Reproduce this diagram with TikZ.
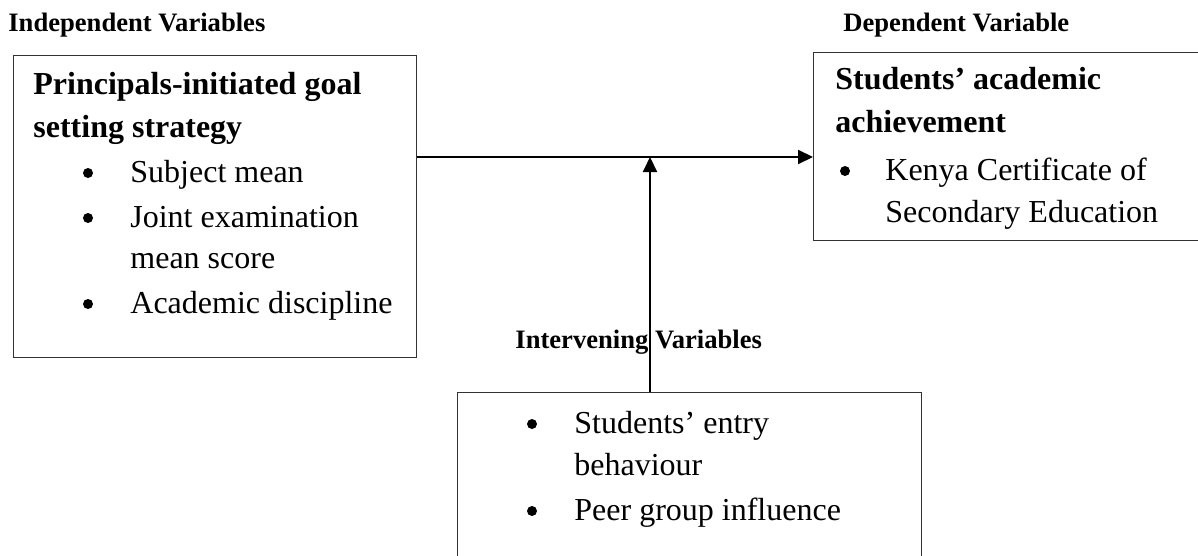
\documentclass[tikz,border=0pt]{standalone}
\usepackage{fontspec}
\setmainfont{Liberation Serif}
\usetikzlibrary{arrows.meta}

\tikzset{
  box/.style={draw=black!80, line width=0.65pt, rectangle, inner sep=0pt, anchor=north west},
  txt/.style={anchor=base west, inner sep=0pt, font=\fontsize{16}{22}\selectfont},
  hd/.style={txt, font=\fontsize{16}{22}\selectfont\bfseries},
  lab/.style={anchor=base west, inner sep=0pt, font=\fontsize{13.3}{16}\selectfont\bfseries},
  dot/.style={circle, fill=black, inner sep=0pt, minimum size=5pt},
  conn/.style={line width=1pt, -{Triangle[length=7.5pt,width=7pt]}}
}

\begin{document}
\begin{tikzpicture}[x=0.5pt,y=-0.5pt]
	\useasboundingbox (0,0) rectangle (1198,556);
	\clip (0,0) rectangle (1198,556);

	% labels above the boxes
	\node (lblindep) at (8,32)[lab] {Independent Variables};
	\node (lbldep) at (843,32)[lab] {Dependent Variable};
	\node (lblint) at (515,348)[lab] {Intervening Variables};

	% independent variables
	\node (indep) at (13,55)[box, minimum width=201.5pt, minimum height=151pt] {};
	\node (h1a) at (33,95)[hd] {Principals-initiated goal};
	\node (h1b) at (33,137)[hd] {setting strategy};
	\node (b1) at (88,173)[dot] {};
	\node (i1) at (130,182)[txt] {Subject mean};
	\node (b2) at (88,218)[dot] {};
	\node (i2) at (130,227)[txt] {Joint examination};
	\node (i2b) at (130,268)[txt] {mean score};
	\node (b3) at (88,304)[dot] {};
	\node (i3) at (130,313)[txt] {Academic discipline};

	% dependent variable
	\node (dep) at (813,52)[box, minimum width=200pt, minimum height=94pt] {};
	\node (h2a) at (835,90)[hd] {Students' academic};
	\node (h2b) at (835,133)[hd] {achievement};
	\node (b4) at (845,171)[dot] {};
	\node (i4) at (885,180)[txt] {Kenya Certificate of};
	\node (i4b) at (885,222)[txt] {Secondary Education};

	% intervening variables
	\node (interv) at (457,392)[box, minimum width=232pt, minimum height=100pt] {};
	\node (b5) at (532,424)[dot] {};
	\node (i5) at (574,433)[txt] {Students' entry};
	\node (i5b) at (574,475)[txt] {behaviour};
	\node (b6) at (532,511)[dot] {};
	\node (i6) at (574,520)[txt] {Peer group influence};

	% connectors
	\coordinate (jn) at (650,157);
	\draw [conn] (indep.east |- jn) -- (dep.west |- jn);
	\draw [conn] (interv.north -| jn) -- (jn);
\end{tikzpicture}
\end{document}
